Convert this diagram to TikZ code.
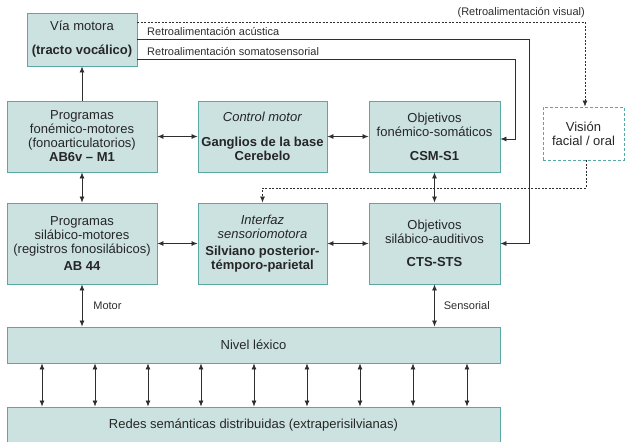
\documentclass[tikz,border=0pt]{standalone}
\usepackage{fontspec}
\setmainfont{Liberation Sans}
\usetikzlibrary{arrows.meta,calc}
\definecolor{boxfill}{HTML}{CBE2E1}
\definecolor{boxline}{HTML}{5AA8A5}
\definecolor{ln}{HTML}{2E2E2E}
\begin{document}
\begin{tikzpicture}[x=1pt,y=-1pt,
  box/.style={draw=boxline, fill=boxfill, line width=0.9pt, align=center, inner sep=0pt,
    text=black!85, font=\fontsize{13}{14}\selectfont},
  dbox/.style={box, fill=white, dashed, dash pattern=on 3pt off 2pt},
  conn/.style={draw=ln, line width=0.75pt},
  tip/.style={-{Latex[length=6pt,width=5pt]}},
  dtip/.style={{Latex[length=6pt,width=5pt]}-{Latex[length=6pt,width=5pt]}},
  dsh/.style={dash pattern=on 2pt off 1.5pt},
  lab/.style={font=\fontsize{11}{12}\selectfont, text=ln, inner sep=0pt}]
\useasboundingbox (0,0) rectangle (625,442);
\fill[white] (0,0) rectangle (625,442);

% boxes
\node[box, minimum width=110pt, minimum height=53pt] (via) at (82,39.5)
  {V\'ia motora\\[10pt]\textbf{(tracto voc\'alico)}};
\node[box, minimum width=150pt, minimum height=71pt] (prog1) at (82,136.5)
  {Programas\\fon\'emico-motores\\(fonoarticulatorios)\\\textbf{AB6v -- M1}};
\node[box, minimum width=129pt, minimum height=71pt] (ctrl) at (262.5,136.5)
  {\textit{Control motor}\\[11pt]\textbf{Ganglios de la base}\\\textbf{Cerebelo}};
\node[box, minimum width=131pt, minimum height=71pt] (obj1) at (434.5,136.5)
  {Objetivos\\fon\'emico-som\'aticos\\[10pt]\textbf{CSM-S1}};
\node[dbox, minimum width=81pt, minimum height=53pt] (vis) at (583.5,133.5)
  {Visi\'on\\facial / oral};
\node[box, minimum width=150pt, minimum height=81pt] (prog2) at (82,243.5)
  {Programas\\sil\'abico-motores\\(registros fonosil\'abicos)\\[3pt]\textbf{AB 44}};
\node[box, minimum width=129pt, minimum height=81pt] (inter) at (262.5,243.5)
  {\textit{Interfaz}\\\textit{sensoriomotora}\\[3pt]\textbf{Silviano posterior-}\\\textbf{t\'emporo-parietal}};
\node[box, minimum width=131pt, minimum height=81pt] (obj2) at (434.5,243.5)
  {Objetivos\\sil\'abico-auditivos\\[9pt]\textbf{CTS-STS}};
\node[box, minimum width=493pt, minimum height=36pt] (nivel) at (253.5,345)
  {Nivel l\'exico};
\node[box, minimum width=493pt, minimum height=36pt] (redes) at (253.5,425)
  {Redes sem\'anticas distribuidas (extraperisilvianas)};

% vertical / horizontal links
\draw[conn, tip] (prog1.north) -- (via.south);
\draw[conn, dtip] (prog1.south) -- (prog2.north);
\draw[conn, dtip] (obj1.south) -- (obj2.north);
\draw[conn, dtip] (prog1.east) -- (ctrl.west);
\draw[conn, dtip] (ctrl.east) -- (obj1.west);
\draw[conn, dtip] (prog2.east) -- (inter.west);
\draw[conn, dtip] (inter.east) -- (obj2.west);
\draw[conn, dtip] (prog2.south) -- (prog2.south |- nivel.north)
  node[lab, anchor=west, pos=0.5, xshift=11pt] {Motor};
\draw[conn, dtip] (obj2.south) -- (obj2.south |- nivel.north)
  node[lab, anchor=west, pos=0.5, xshift=9pt] {Sensorial};
\foreach \x in {42,95,148,201,254,307,360,413,467}
  \draw[conn, dtip] (nivel.south -| \x,0) -- (redes.north -| \x,0);

% feedback lines
\coordinate (vA) at (137,22);
\coordinate (vB) at (585,22);
\draw[conn, dsh, tip] (vA) -- (vB) -- (vB |- vis.north);
\node[lab, anchor=east] (vlab) at (585,13) {(Retroalimentaci\'on visual)};

\coordinate (aA) at (137,39);
\coordinate (aB) at (529,39);
\draw[conn, tip] (aA) -- (aB) -- (aB |- obj2.east) -- (obj2.east);
\node[lab, anchor=base west] (alab) at (147,35.5) {Retroalimentaci\'on ac\'ustica};

\coordinate (sA) at (137,59);
\coordinate (sB) at (515,59);
\draw[conn, tip] (sA) -- (sB) -- (515,139) -- (obj1.east |- 0,139);
\node[lab, anchor=base west] (slab) at (147,55.5) {Retroalimentaci\'on somatosensorial};

\coordinate (dA) at (586,188);
\draw[conn, dsh, tip] (vis.south -| dA) -- (dA) -- (dA -| inter.north) -- (inter.north);
\end{tikzpicture}
\end{document}
